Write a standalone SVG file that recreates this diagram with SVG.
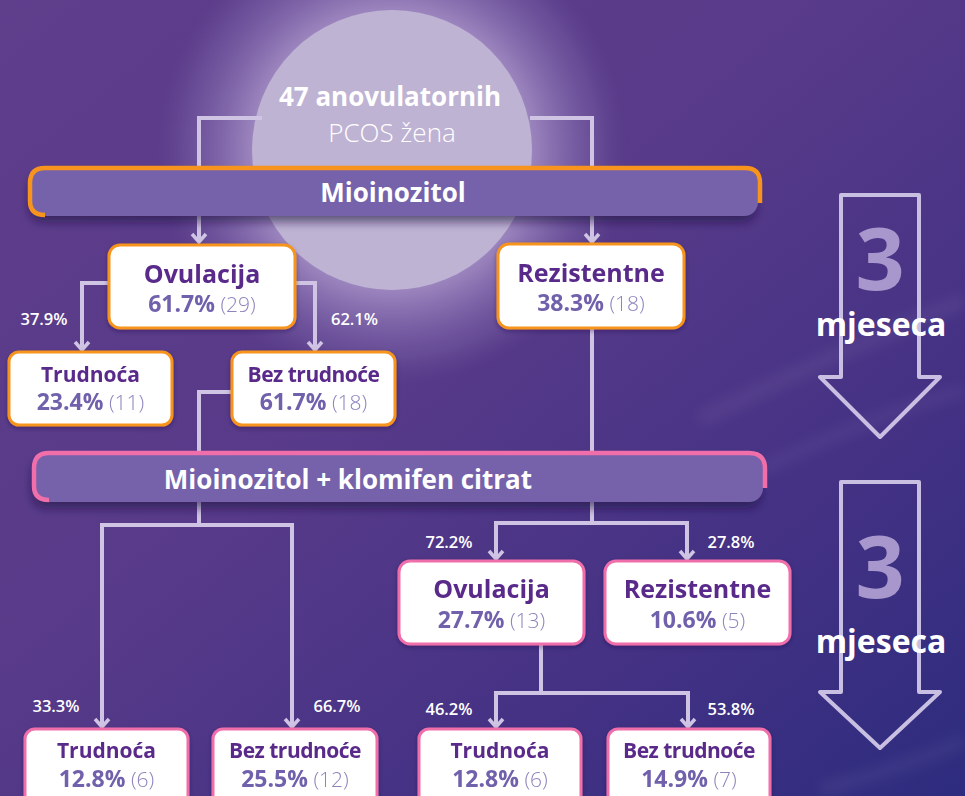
<svg xmlns="http://www.w3.org/2000/svg" width="965" height="796" viewBox="0 0 965 796">
<defs>
<linearGradient id="bg" x1="0" y1="0" x2="1" y2="1">
<stop offset="0" stop-color="#5f3e8c"/>
<stop offset="0.45" stop-color="#573a89"/>
<stop offset="0.75" stop-color="#433184"/>
<stop offset="1" stop-color="#2d2c7e"/>
</linearGradient>
<radialGradient id="halo" cx="392" cy="150" r="235" gradientUnits="userSpaceOnUse">
<stop offset="0.55" stop-color="#ab96c9" stop-opacity="0.95"/>
<stop offset="0.7" stop-color="#937cb9" stop-opacity="0.75"/>
<stop offset="0.88" stop-color="#7c64a8" stop-opacity="0.4"/>
<stop offset="1" stop-color="#6a4f9a" stop-opacity="0"/>
</radialGradient>
<linearGradient id="fadeO" x1="0" y1="0" x2="1" y2="0">
<stop offset="0" stop-color="#f7941d"/>
<stop offset="0.6" stop-color="#f7941d" stop-opacity="0.7"/>
<stop offset="1" stop-color="#f7941d" stop-opacity="0"/>
</linearGradient>
<linearGradient id="fadeP" x1="0" y1="0" x2="1" y2="0">
<stop offset="0" stop-color="#f06eaa"/>
<stop offset="0.6" stop-color="#f06eaa" stop-opacity="0.7"/>
<stop offset="1" stop-color="#f06eaa" stop-opacity="0"/>
</linearGradient>
<filter id="sh" x="-10%" y="-40%" width="120%" height="190%">
<feDropShadow dx="-2" dy="6" stdDeviation="5" flood-color="#1c1040" flood-opacity="0.6"/>
</filter>
<filter id="nsh" x="-10%" y="-20%" width="120%" height="140%">
<feDropShadow dx="0" dy="2" stdDeviation="2" flood-color="#1c1040" flood-opacity="0.35"/>
</filter>
<filter id="blur"><feGaussianBlur stdDeviation="7"/></filter>
<marker id="arr" viewBox="-10 -10 12 20" refX="0" refY="0" markerWidth="12" markerHeight="20" markerUnits="userSpaceOnUse" orient="auto">
<path d="M -8 -7 L 0 0 L -8 7" fill="none" stroke="#cfc4e3" stroke-width="3.5"/>
</marker>
<style>
.ln{fill:none;stroke:#cfc4e3;stroke-width:4}
.la{fill:none;stroke:#cfc4e3;stroke-width:4;marker-end:url(#arr)}
.nbo{fill:#fff;stroke:#f7941d;stroke-width:3}
.nbp{fill:#fff;stroke:#f06eaa;stroke-width:3}
.t{font-family:"Open Sans","Liberation Sans",sans-serif;font-weight:700;fill:#5a2a8a;text-anchor:middle}
.p{font-family:"Open Sans","Liberation Sans",sans-serif;text-anchor:middle;font-size:21px}
.pb{font-weight:700;fill:#7161ab}
.pl{font-weight:300;fill:#8f83bc}
.lab{font-family:"Open Sans","Liberation Sans",sans-serif;font-weight:600;font-size:16.5px;fill:#fff;text-anchor:middle}
.bar{font-family:"Open Sans","Liberation Sans",sans-serif;font-weight:700;font-size:26px;fill:#fff;text-anchor:middle}
.big{fill:none;stroke:#c9bfe2;stroke-width:4;stroke-linejoin:round}
.three{font-family:"Open Sans","Liberation Sans",sans-serif;font-weight:700;font-size:86px;fill:#a897cc;text-anchor:middle}
.mj{font-family:"Open Sans","Liberation Sans",sans-serif;font-weight:700;font-size:32px;fill:#fff;text-anchor:middle}
</style>
</defs>
<rect width="965" height="796" fill="url(#bg)"/>
<g opacity="0.06" filter="url(#blur)">
<path d="M 700 420 Q 820 360 965 300" stroke="#fff" stroke-width="14" fill="none"/>
<path d="M 760 470 Q 860 420 965 390" stroke="#fff" stroke-width="10" fill="none"/>
<path d="M 820 790 Q 900 770 965 740" stroke="#fff" stroke-width="12" fill="none"/>
</g>
<g id="start">
<circle cx="392" cy="150" r="236" fill="url(#halo)"/>
<circle cx="392" cy="150" r="140" fill="#bfb3d4"/>
<text x="390" y="106" font-family="'Open Sans','Liberation Sans',sans-serif" font-weight="700" font-size="26" fill="#fff" text-anchor="middle">47 anovulatornih</text>
<text x="392" y="142" font-family="'Open Sans','Liberation Sans',sans-serif" font-weight="300" font-size="26" fill="#fff" text-anchor="middle">PCOS žena</text>
</g>
<g id="connectors">
<path class="la" d="M 262 118 H 199 V 242"/>
<path class="la" d="M 530 118 H 592 V 242"/>
<path class="la" d="M 109 283 H 82 V 350"/>
<path class="la" d="M 295 283 H 315 V 350"/>
<path class="ln" d="M 232 392 H 199 V 525"/>
<path class="la" d="M 199 525 H 102 V 727"/>
<path class="la" d="M 199 525 H 292 V 727"/>
<path class="ln" d="M 592 328 V 523"/>
<path class="la" d="M 592 523 H 496 V 559"/>
<path class="la" d="M 592 523 H 687 V 559"/>
<path class="ln" d="M 541 644 V 693"/>
<path class="la" d="M 541 693 H 496 V 727"/>
<path class="la" d="M 541 693 H 688 V 727"/>
</g>
<g id="bar1">
<rect x="31" y="169" width="727" height="47" rx="14" fill="#7462ab" filter="url(#sh)"/>
<path d="M 760 203 V 183 Q 760 168 745 168 H 45 Q 30 168 30 183 V 201 Q 30 215 45 215" fill="none" stroke="#f7941d" stroke-width="4.5"/>
<path d="M 44 215 H 700" fill="none" stroke="url(#fadeO)" stroke-width="3"/>
<text class="bar" x="393" y="202">Mioinozitol</text>
</g>
<g id="bar2">
<rect x="34" y="454" width="729" height="48" rx="14" fill="#7462ab" filter="url(#sh)"/>
<path d="M 765 488 V 469 Q 765 453 749 453 H 49 Q 34 453 34 468 V 486 Q 34 500 49 500" fill="none" stroke="#f06eaa" stroke-width="4.5"/>
<path d="M 48 500 H 700" fill="none" stroke="url(#fadeP)" stroke-width="3"/>
<text class="bar" x="348" y="489">Mioinozitol + klomifen citrat</text>
</g>
<g id="ovulacija1" filter="url(#nsh)">
<rect class="nbo" x="109" y="245" width="186" height="83" rx="11"/>
<text class="t" x="202" y="283" font-size="25">Ovulacija</text>
<text class="p" x="202" y="312"><tspan class="pb" font-size="23">61.7%</tspan><tspan class="pl"> (29)</tspan></text>
</g>
<g id="rezistentne1" filter="url(#nsh)">
<rect class="nbo" x="498" y="244" width="186" height="84" rx="11"/>
<text class="t" x="591" y="282" font-size="25">Rezistentne</text>
<text class="p" x="591" y="311"><tspan class="pb" font-size="23">38.3%</tspan><tspan class="pl"> (18)</tspan></text>
</g>
<g id="trudnoca1" filter="url(#nsh)">
<rect class="nbo" x="9" y="352" width="163" height="73" rx="10"/>
<text class="t" x="90.5" y="382" font-size="21">Trudnoća</text>
<text class="p" x="90.5" y="410"><tspan class="pb" font-size="23">23.4%</tspan><tspan class="pl"> (11)</tspan></text>
</g>
<g id="beztrudnoce1" filter="url(#nsh)">
<rect class="nbo" x="232" y="352" width="163" height="73" rx="10"/>
<text class="t" x="313.5" y="382" font-size="21" letter-spacing="-0.5">Bez trudnoće</text>
<text class="p" x="313.5" y="410"><tspan class="pb" font-size="23">61.7%</tspan><tspan class="pl"> (18)</tspan></text>
</g>
<g id="ovulacija2" filter="url(#nsh)">
<rect class="nbp" x="399" y="561" width="185" height="83" rx="11"/>
<text class="t" x="491.5" y="598" font-size="25">Ovulacija</text>
<text class="p" x="491.5" y="628"><tspan class="pb" font-size="23">27.7%</tspan><tspan class="pl"> (13)</tspan></text>
</g>
<g id="rezistentne2" filter="url(#nsh)">
<rect class="nbp" x="605" y="561" width="185" height="83" rx="11"/>
<text class="t" x="697.5" y="598" font-size="25">Rezistentne</text>
<text class="p" x="697.5" y="628"><tspan class="pb" font-size="23">10.6%</tspan><tspan class="pl"> (5)</tspan></text>
</g>
<g id="trudnoca2" filter="url(#nsh)">
<rect class="nbp" x="25" y="729" width="163" height="80" rx="10"/>
<text class="t" x="106.5" y="758" font-size="21">Trudnoća</text>
<text class="p" x="106.5" y="787"><tspan class="pb" font-size="23">12.8%</tspan><tspan class="pl"> (6)</tspan></text>
</g>
<g id="beztrudnoce2" filter="url(#nsh)">
<rect class="nbp" x="213" y="729" width="164" height="80" rx="10"/>
<text class="t" x="295" y="758" font-size="21" letter-spacing="-0.5">Bez trudnoće</text>
<text class="p" x="295" y="787"><tspan class="pb" font-size="23">25.5%</tspan><tspan class="pl"> (12)</tspan></text>
</g>
<g id="trudnoca3" filter="url(#nsh)">
<rect class="nbp" x="419" y="729" width="162" height="80" rx="10"/>
<text class="t" x="500" y="758" font-size="21">Trudnoća</text>
<text class="p" x="500" y="787"><tspan class="pb" font-size="23">12.8%</tspan><tspan class="pl"> (6)</tspan></text>
</g>
<g id="beztrudnoce3" filter="url(#nsh)">
<rect class="nbp" x="608" y="729" width="162" height="80" rx="10"/>
<text class="t" x="689" y="758" font-size="21" letter-spacing="-0.5">Bez trudnoće</text>
<text class="p" x="689" y="787"><tspan class="pb" font-size="23">14.9%</tspan><tspan class="pl"> (7)</tspan></text>
</g>
<g id="labels">
<text class="lab" x="44" y="325">37.9%</text>
<text class="lab" x="354.5" y="325">62.1%</text>
<text class="lab" x="56" y="712">33.3%</text>
<text class="lab" x="337" y="712">66.7%</text>
<text class="lab" x="449" y="548">72.2%</text>
<text class="lab" x="731" y="548">27.8%</text>
<text class="lab" x="449" y="715">46.2%</text>
<text class="lab" x="731" y="715">53.8%</text>
</g>
<g id="period1">
<path class="big" d="M 841 195 H 919 V 377 H 940 L 880 437 L 820 377 H 841 Z"/>
<text class="three" x="880" y="290">3</text>
<text class="mj" x="881" y="336">mjeseca</text>
</g>
<g id="period2">
<path class="big" d="M 841 482 H 919 V 692 H 940 L 880 748 L 820 692 H 841 Z"/>
<text class="three" x="880" y="598">3</text>
<text class="mj" x="881" y="653">mjeseca</text>
</g>
</svg>
